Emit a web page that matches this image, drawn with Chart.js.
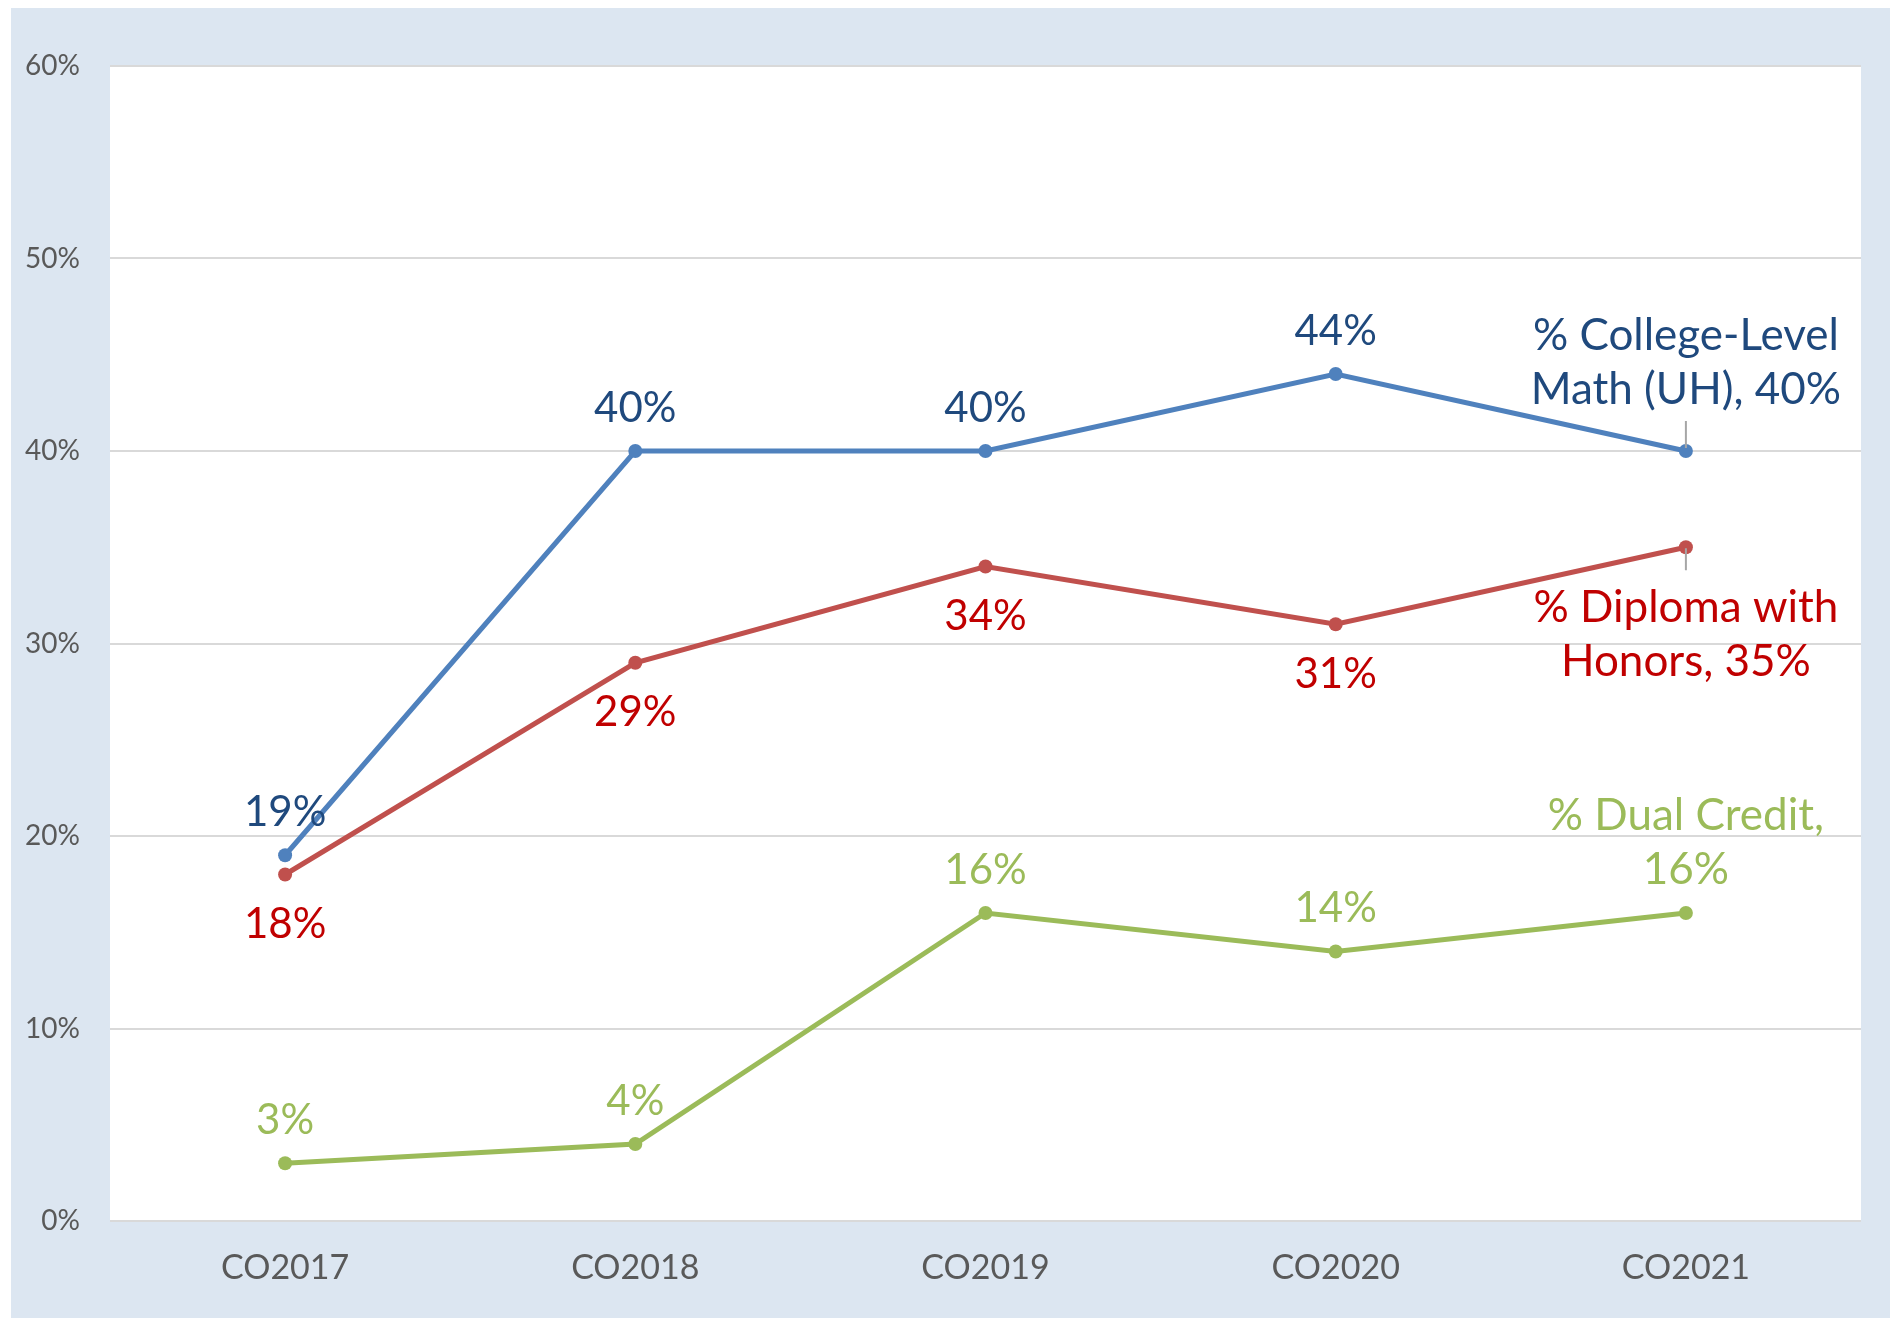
<!DOCTYPE html>
<html>
<head>
<meta charset="utf-8">
<script src="https://cdn.jsdelivr.net/npm/chart.js@4.4.0/dist/chart.umd.min.js"></script>
<style>
    html, body { margin: 0; padding: 0; background: #ffffff; }
    #wrap {
        position: absolute;
        left: 11px;
        top: 8px;
        width: 1879px;
        height: 1310px;
        background: #DCE6F1;
    }
</style>
</head>
<body>

<div id="wrap">
    <canvas id="chart" width="1879" height="1310"></canvas>
</div>

<script>
/* =========================
   DATA
========================= */

const cohorts = ["CO2017", "CO2018", "CO2019", "CO2020", "CO2021"];

const mathUH = [19, 40, 40, 44, 40];
const honors = [18, 29, 34, 31, 35];
const dualCredit = [3, 4, 16, 14, 16];

const yTicks = [0, 10, 20, 30, 40, 50, 60];

// series name shown at the last point, value gets appended to the last line
const mathName = ["% College-Level", "Math (UH),"];
const honorsName = ["% Diploma with", "Honors,"];
const dualName = ["% Dual Credit,", ""];

/* =========================
   STYLE
========================= */

const FONT = "Lato, 'Open Sans', sans-serif";

const labelStyle = [
    { color: "#1F497D", side: -1, gap: 45, lastGap: 63, leader: [3, 30] },
    { color: "#C00000", side: 1, gap: 48, lastGap: 59, leader: [1, 23] },
    { color: "#9BBB59", side: -1, gap: 45, lastGap: 45, leader: null }
];

function pointLabels(values, nameLines) {
    return values.map((v, i) => {
        if (i < values.length - 1) return [v + "%"];
        const lines = nameLines.slice();
        const last = lines.pop();
        lines.push((last ? last + " " : "") + v + "%");
        return lines;
    });
}

const allLabels = [
    pointLabels(mathUH, mathName),
    pointLabels(honors, honorsName),
    pointLabels(dualCredit, dualName)
];

/* =========================
   PLUGINS
========================= */

const plotBg = {
    id: "plotBg",
    beforeDraw(chart) {
        const { ctx, chartArea: a } = chart;
        ctx.save();
        ctx.fillStyle = "#ffffff";
        ctx.fillRect(a.left, a.top, a.right - a.left, a.bottom - a.top);
        ctx.restore();
    }
};

const pointText = {
    id: "pointText",
    afterDatasetsDraw(chart) {

        const ctx = chart.ctx;
        const lineH = 54;

        chart.data.datasets.forEach((ds, di) => {

            const st = labelStyle[di];
            const meta = chart.getDatasetMeta(di);

            meta.data.forEach((pt, i) => {

                const lines = allLabels[di][i];
                const isLast = i === meta.data.length - 1;
                const gap = isLast ? st.lastGap : st.gap;

                ctx.save();
                ctx.font = (isLast ? "44px " : "42px ") + FONT;
                ctx.fillStyle = st.color;
                ctx.textAlign = "center";
                ctx.textBaseline = "middle";

                lines.forEach((txt, li) => {
                    let y;
                    if (st.side < 0) {
                        y = pt.y - gap - (lines.length - 1 - li) * lineH;
                    } else {
                        y = pt.y + gap + li * lineH;
                    }
                    ctx.fillText(txt, pt.x, y + 2);
                });

                if (isLast && st.leader) {
                    ctx.strokeStyle = "#A6A6A6";
                    ctx.lineWidth = 2;
                    ctx.beginPath();
                    ctx.moveTo(pt.x, pt.y + st.side * st.leader[0]);
                    ctx.lineTo(pt.x, pt.y + st.side * st.leader[1]);
                    ctx.stroke();
                }

                ctx.restore();
            });
        });
    }
};

/* =========================
   CHART
========================= */

function lineSet(label, data, color) {
    return {
        label: label,
        data: data,
        borderColor: color,
        backgroundColor: color,
        borderWidth: 5,
        pointRadius: 7,
        pointBorderWidth: 0,
        pointBackgroundColor: color,
        tension: 0
    };
}

new Chart(document.getElementById("chart"), {

    type: "line",

    data: {
        labels: cohorts,
        datasets: [
            lineSet("% College-Level Math (UH)", mathUH, "#4F81BD"),
            lineSet("% Diploma with Honors", honors, "#C0504D"),
            lineSet("% Dual Credit", dualCredit, "#9BBB59")
        ]
    },

    options: {
        responsive: false,
        devicePixelRatio: 1,
        animation: false,
        layout: {
            padding: { top: 58, right: 29, left: 0, bottom: 0 }
        },
        plugins: {
            legend: { display: false },
            tooltip: { enabled: false }
        },
        scales: {
            x: {
                offset: true,
                grid: { display: false, drawTicks: false },
                border: { display: false },
                ticks: {
                    color: "#595959",
                    font: { family: FONT, size: 34 },
                    padding: 27
                },
                afterFit(scale) { scale.height = 97; }
            },
            y: {
                min: 0,
                max: 60,
                afterBuildTicks(scale) {
                    scale.ticks = yTicks.map(v => ({ value: v }));
                },
                grid: { color: "#D9D9D9", lineWidth: 2, drawTicks: false },
                border: { display: false },
                ticks: {
                    color: "#595959",
                    font: { family: FONT, size: 28 },
                    padding: 30,
                    callback: v => v + "%"
                },
                afterFit(scale) { scale.width = 99; }
            }
        }
    },

    plugins: [plotBg, pointText]
});
</script>
</body>
</html>
